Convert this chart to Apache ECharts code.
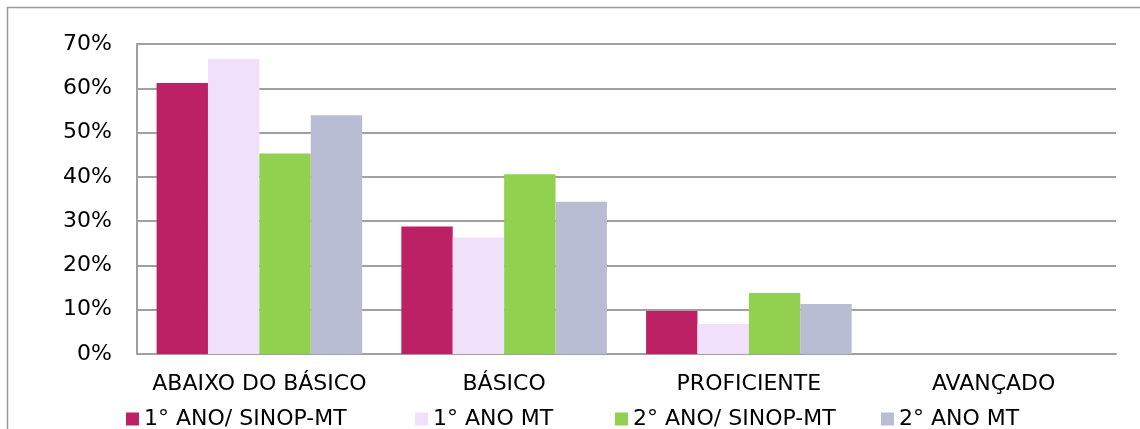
<!DOCTYPE html>
<html>
<head>
<meta charset="utf-8">
<script src="https://cdn.jsdelivr.net/npm/echarts@6/dist/echarts.min.js"></script>
<style>
  html, body { margin: 0; padding: 0; background: #fff; }
  #chart { width: 1140px; height: 429px; }
</style>
</head>
<body>
<div id="chart"></div>
<script>
// categorias (níveis de proficiência)
const categories = ['ABAIXO DO BÁSICO', 'BÁSICO', 'PROFICIENTE', 'AVANÇADO'];
// séries (percentuais)
const ano1Sinop = [61.2, 28.8, 9.7, 0];
const ano1MT = [66.6, 26.3, 6.8, 0];
const ano2Sinop = [45.3, 40.6, 13.8, 0];
const ano2MT = [53.9, 34.4, 11.3, 0];
const seriesNames = ['1° ANO/ SINOP-MT', '1° ANO MT', '2° ANO/ SINOP-MT', '2° ANO MT'];
const seriesData = [ano1Sinop, ano1MT, ano2Sinop, ano2MT];
const colors = ['#BC2166', '#F0E0FA', '#92D050', '#B8BDD3'];
const legendLeft = [121, 410, 610, 876];

function initChart() {
    const myChart = echarts.init(document.getElementById('chart'));
    const font = '"DejaVu Sans", sans-serif';

    const option = {
        animation: false,
        textStyle: { fontFamily: font },
        // moldura externa
        graphic: [{
            type: 'rect',
            shape: { x: 7.5, y: 7.5, width: 1200, height: 500 },
            style: { fill: 'none', stroke: '#999', lineWidth: 1.5 },
            silent: true
        }],
        legend: seriesNames.map((name, i) => ({
            data: [name],
            left: legendLeft[i],
            top: 403,
            itemWidth: 13,
            itemHeight: 13,
            itemGap: 6,
            icon: 'rect',
            textStyle: { fontSize: 22, color: '#000', fontFamily: font }
        })),
        grid: { left: 137, right: 24, top: 44, bottom: 75 },
        xAxis: {
            type: 'category',
            data: categories,
            axisTick: { show: false },
            axisLine: { lineStyle: { color: '#a0a0a0', width: 2 } },
            axisLabel: { color: '#000', fontSize: 22, margin: 19, interval: 0, fontFamily: font }
        },
        yAxis: {
            type: 'value',
            min: 0,
            max: 70,
            interval: 10,
            axisLine: { show: true, lineStyle: { color: '#a0a0a0', width: 2 } },
            axisTick: { show: false },
            splitLine: { lineStyle: { color: '#a0a0a0', width: 2 } },
            axisLabel: { color: '#000', fontSize: 22, margin: 25, formatter: '{value}%', fontFamily: font }
        },
        series: seriesData.map((d, i) => ({
            name: seriesNames[i],
            type: 'bar',
            data: d,
            barGap: '0%',
            barCategoryGap: '16%',
            itemStyle: { color: colors[i] }
        }))
    };

    myChart.setOption(option);
    window.addEventListener('resize', () => myChart.resize());
}

window.onload = initChart;
</script>
</body>
</html>
